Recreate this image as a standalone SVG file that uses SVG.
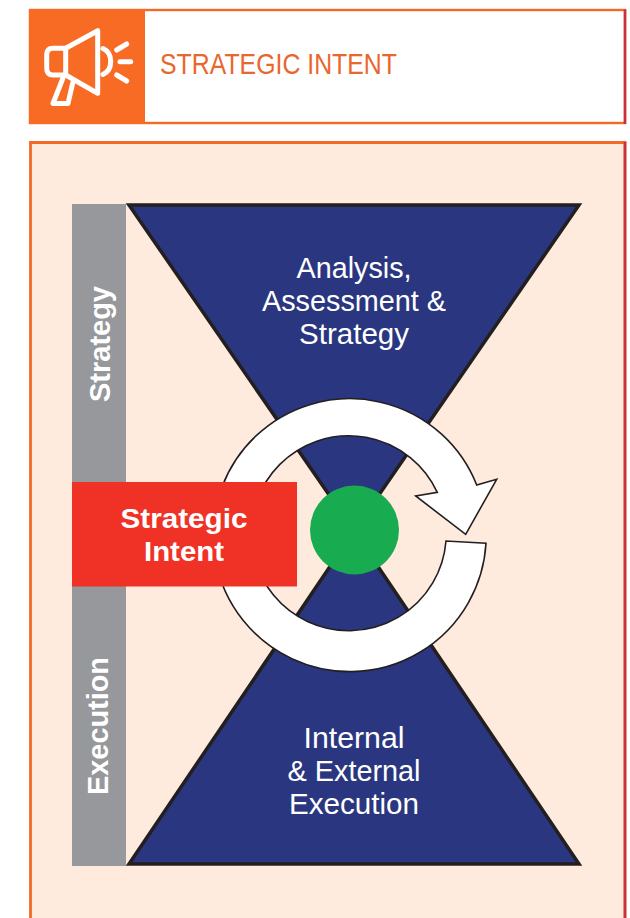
<svg xmlns="http://www.w3.org/2000/svg" width="630" height="918" viewBox="0 0 630 918">
<style>
.lab{font-family:"Liberation Sans",Arial,sans-serif;fill:#fff;text-anchor:middle}
.b{font-weight:700}
.ic{fill:none;stroke:#fff;stroke-width:5;stroke-linecap:round;stroke-linejoin:round}
.edge{fill:#fff;stroke:#231f20;stroke-width:1.6;stroke-linejoin:miter}
</style>
<rect width="630" height="918" fill="#fff"/>
<g id="header">
<rect x="30" y="10" width="595" height="113" fill="#fff" stroke="#f26a26" stroke-width="2.4"/>
<path d="M625 9.5V124" stroke="#c8323f" stroke-width="2.6" fill="none"/>
<rect x="29" y="9" width="116" height="115" fill="#f76b24"/>
<g id="megaphone" class="ic">
<path d="M97.7 30.7V93.3L65.7 75V48.3Z"/>
<path d="M65.7 48.3H53Q46.7 48.3 46.7 55V68Q46.7 75 53 75H65.7"/>
<path d="M63 78L53 103.500H68L72.700 83"/>
<path d="M103 48.500Q110.700 52 110.700 61.500Q110.700 71 103 74.500"/>
<path d="M116.700 50L126.700 44M120 61.700H130.700M116.700 75L126.700 81"/>
</g>
<text x="160" y="74" font-family="'Liberation Sans',Arial,sans-serif" font-size="29" fill="#e9662c" textLength="237" lengthAdjust="spacingAndGlyphs">STRATEGIC INTENT</text>
</g>
<g id="panel">
<path d="M30.500 918V142.500H625V918" fill="#ffebde" stroke="#f26a26" stroke-width="2.800"/>
<path d="M625 142V918" stroke="#c8323f" stroke-width="2.600" fill="none"/>
</g>
<g id="side-bar">
<rect x="72" y="204" width="54" height="662" fill="#97989b"/>
<text class="lab b" transform="translate(110,344) rotate(-90)" font-size="29" textLength="116" lengthAdjust="spacingAndGlyphs">Strategy</text>
<text class="lab b" transform="translate(108,726) rotate(-90)" font-size="29" textLength="138" lengthAdjust="spacingAndGlyphs">Execution</text>
</g>
<g id="hourglass">
<path d="M129 205H579L354 531L579 864H129L354 531Z" fill="#2a3780" stroke="#231f20" stroke-width="3.500" stroke-linejoin="miter"/>
<text class="lab" x="354" y="278" font-size="29" textLength="115" lengthAdjust="spacingAndGlyphs">Analysis,</text>
<text class="lab" x="354" y="311" font-size="29" textLength="184" lengthAdjust="spacingAndGlyphs">Assessment &amp;</text>
<text class="lab" x="354" y="344" font-size="29" textLength="110" lengthAdjust="spacingAndGlyphs">Strategy</text>
<text class="lab" x="354" y="748" font-size="29" textLength="101" lengthAdjust="spacingAndGlyphs">Internal</text>
<text class="lab" x="354" y="781" font-size="29" textLength="133" lengthAdjust="spacingAndGlyphs">&amp; External</text>
<text class="lab" x="354" y="814" font-size="29" textLength="130" lengthAdjust="spacingAndGlyphs">Execution</text>
</g>
<g id="cycle-arrow">
<path class="edge" d="M486 543.300A136.500 136.500 0 1 1 476.700 485L496.700 479.300L465.700 534.300L415.700 496L437.300 492.300A97.500 97.500 0 1 0 446 541Z"/>
</g>
<g id="centre"><circle cx="354.500" cy="530" r="44.500" fill="#19ab50"/></g>
<g id="strategic-intent">
<rect x="72" y="482" width="225" height="104.500" fill="#f03226"/>
<text class="lab b" x="184" y="528" font-size="28" textLength="127" lengthAdjust="spacingAndGlyphs">Strategic</text>
<text class="lab b" x="184" y="561" font-size="28" textLength="80" lengthAdjust="spacingAndGlyphs">Intent</text>
</g>
</svg>
